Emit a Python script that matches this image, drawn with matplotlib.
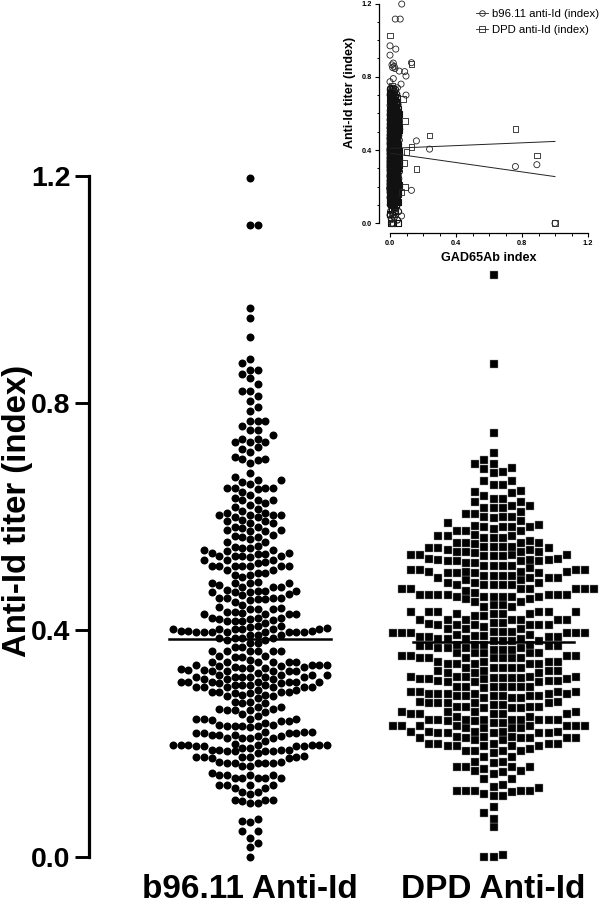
import matplotlib
matplotlib.use("Agg")
import matplotlib.pyplot as plt
import numpy as np
from matplotlib.lines import Line2D

plt.rcParams["font.family"] = ["Liberation Sans", "DejaVu Sans"]

b96_levels = [1.196,1.114,.967,.949,.916,.877,.870,.859,.851,.844,
              .833,.822,.812,.803,.793,.786,.769,.760,.752,.744,
              .737,.731,.723,.719,.714,.705,.701,.700,.694,.676,
              .669,.664,.661,.657,.651,.648,.644,.638,.632,.629,
              .623,.621,.616,.613,.610,.607,.603,.599,.594,.592,
              .589,.588,.581,.579,.576,.575,.567,.565,.563,.560,
              .555,.548,.546,.544,.541,.539,.535,.534,.530,.528,
              .523,.520,.518,.513,.512,.506,.501,.497,.494,.484,
              .482,.479,.475,.471,.469,.467,.463,.461,.457,.454,
              .453,.450,.444,.441,.438,.437,.431,.430,.428,.422,
              .419,.418,.415,.412,.407,.405,.403,.401,.399,.397,
              .396,.391,.386,.383,.377,.370,.363,.354,.353,.352,
              .347,.344,.343,.338,.336,.334,.333,.331,.330,.327,
              .325,.321,.318,.313,.309,.307,.306,.303,.299,.294,
              .291,.289,.286,.283,.280,.274,.272,.271,.265,.260,
              .259,.256,.252,.249,.244,.243,.242,.239,.237,.233,
              .231,.229,.221,.218,.215,.213,.209,.205,.200,.197,
              .195,.192,.189,.186,.183,.178,.177,.174,.168,.165,
              .161,.148,.145,.144,.139,.127,.121,.115,.111,.101,
              .098,.095,.067,.064,.061,.045,.033,.025,.018,0.0]
b96_counts = [1,2,1,1,1,1,1,2,1,1,
              1,2,1,1,1,1,3,1,2,1,
              2,3,1,1,1,1,2,1,1,1,
              1,2,1,1,4,1,1,1,1,3,
              1,1,1,1,1,2,4,2,1,2,
              1,1,2,1,2,2,1,1,2,1,
              2,1,1,2,2,1,2,2,4,1,
              3,1,1,4,3,2,2,2,1,1,
              4,1,3,1,3,3,1,1,4,2,
              1,1,1,1,1,3,2,1,4,3,
              2,1,3,1,2,1,1,6,3,5,
              3,3,4,2,2,2,6,2,1,1,
              1,4,2,4,2,2,3,1,2,5,
              1,4,6,3,7,1,1,4,6,2,
              4,2,2,2,1,2,1,1,2,2,
              3,1,1,1,2,2,1,2,1,2,
              4,1,3,4,3,2,4,1,1,7,
              4,2,4,4,1,1,5,2,2,5,
              2,1,1,3,5,4,2,2,1,3,
              1,2,1,1,1,2,1,1,1,1]

dpd_levels = [1.026,.868,.748,.712,.700,.693,.686,.684,.679,.676,
              .662,.656,.645,.643,.641,.636,.631,.626,.619,.615,
              .608,.605,.600,.599,.597,.592,.588,.585,.584,.582,
              .578,.575,.574,.568,.565,.562,.556,.554,.553,.552,
              .547,.544,.541,.538,.537,.535,.532,.530,.525,.524,
              .521,.518,.513,.512,.509,.506,.503,.500,.496,.492,.488,.483,.479,
              .472,.469,.465,.462,.459,.454,.450,.444,.440,.432,
              .428,.424,.418,.413,.411,.409,.406,.401,.397,.394,
              .391,.390,.387,.384,.380,.374,.371,.368,.365,.359,.354,.350,.344,
              .340,.333,.328,.324,.317,.316,.313,.310,.309,.300,.297,.291,
              .287,.283,.280,.274,.271,.268,.265,.262,.256,.252,
              .247,.242,.239,.236,.230,.227,.221,.218,.212,.209,
              .206,.199,.195,.190,.186,.184,.177,.168,.166,.159,
              .155,.151,.149,.146,.137,.127,.124,.121,.116,.115,
              .111,.107,.088,.077,.067,.052,.003,.000]
dpd_counts = [1,1,1,1,1,2,1,1,1,1,
              2,2,1,1,1,1,2,2,2,3,
              1,2,1,2,1,1,1,1,1,4,
              1,2,1,1,3,3,1,3,1,1,
              4,3,2,2,2,1,4,3,2,3,
              4,2,3,1,1,4,4,4,4,4,2,3,5,
              7,1,1,7,6,2,2,2,2,6,
              4,2,7,2,1,6,1,3,3,6,
              2,2,4,4,4,4,4,4,3,5,4,7,4,
              5,5,4,3,5,4,4,3,3,7,1,4,
              6,6,3,2,5,2,4,3,4,5,
              2,9,2,2,8,4,5,5,3,6,
              2,5,5,1,4,1,2,2,1,4,
              1,2,1,1,2,1,1,1,5,1,
              1,2,1,1,1,1,1,2]

b96_mean = 0.3835
dpd_mean = 0.378
group_labels = ["b96.11 Anti-Id", "DPD Anti-Id"]
main_ticks = [0.0, 0.4, 0.8, 1.2]

# inset: estimated GAD65Ab index for the dense part
gad_b96 = [.004,.021,.012,.033,.002,.017,.028,.008,.041,.014,
           .001,.024,.036,.006,.019,.044,.011,.003,.029,.016,
           .038,.007,.022,.048,.001,.013,.031,.005,.026,.018,
           .042,.009,.002,.035,.015,.052,.023,.004,.011,.039,
           .027,.006,.046,.017,.001,.032,.013,.056,.021,.008,
           .037,.003,.025,.049,.012,.019,.001,.043,.029,.007,
           .016,.054,.034,.005,.022,.011,.041,.002,.028,.047,
           .014,.009,.036,.019,.003,.051,.025,.006,.039,.013,
           .031,.001,.045,.017,.008,.023,.058,.004,.035,.012,
           .027,.042,.002,.018,.049,.007,.033,.015,.024,.001,
           .038,.010,.053,.005,.029,.020,.044,.003,.014,.034,
           .008,.025,.047,.001,.017,.040,.011,.030,.006,.056,
           .021,.003,.036,.013,.045,.008,.026,.001,.018,.032,
           .052,.005,.023,.041,.011,.002,.029,.015,.037,.007,
           .048,.019,.003,.034,.010,.025,.043,.001,.016,.030,
           .006,.039,.021,.012,.046,.002,.027,.008,.035,.017,
           .004,.024,.042,.010,.001,.031,.014,.038,.006,.020,
           .002,.028,.011,.034,.005,.017,.001,.009,.023,.004]
gad_dpd = [.002,.019,.030,.008,.041,.014,.001,.024,.036,.006,
           .018,.045,.011,.003,.028,.015,.039,.007,.022,.049,
           .001,.013,.033,.005,.026,.017,.043,.009,.002,.036,
           .015,.054,.023,.004,.011,.040,.027,.006,.047,.018,
           .001,.032,.012,.021,.008,.038,.003,.025,.050,.013,
           .019,.001,.044,.029,.007,.016,.035,.005,.022,.011,
           .042,.002,.028,.048,.014,.009,.037,.020,.003,.052,
           .026,.006,.040,.012,.031,.001,.046,.017,.008,.023,
           .057,.004,.034,.013,.027,.043,.002,.018,.049,.007,
           .033,.015,.024,.001,.039,.010,.053,.005,.029,.020,
           .044,.003,.014,.034,.008,.025,.047,.001,.017,.041,
           .011,.030,.006,.021,.003,.036,.013,.045,.008,.026,
           .001,.018,.032,.005,.023,.040,.011,.002,.029,.015,
           .037,.007,.019,.003,.027,.010,.001,.016,.024,.006,
           .012,.002,.020,.009,.001]

# inset: points that stand clear of the dense part
out_b96_x = [.071,.032,.062,0.0,.035,0.0,.13,.02,.012,.025,.016,.03,.056,.089,.097,0.0,.02,.067,.045,.097,
             .16,.24,.76,.89,.13,1.0,.07,.01,.03]
out_b96_y = [1.197,1.115,1.115,.969,.951,.918,.877,.875,.865,.857,.85,.845,.831,.828,.804,.773,.79,.76,.74,.70,
             .45,.405,.31,.32,.18,0.0,.04,.02,.06]
out_dpd_x = [0.0,.13,.01,.24,.76,.89,.13,.16,.10,1.0,.015,.09,.08,.07,.03,.09,.085]
out_dpd_y = [1.026,.868,.748,.48,.515,.37,.415,.295,.39,0.0,0.0,.56,.68,.17,.05,.2,.33]
reg_x = [0.0, 1.0]
reg_b96 = [.383, .255]
reg_dpd = [.409, .447]
inset_ticks = [0.0, 0.4, 0.8, 1.2]
inset_minor = [.1, .2, .3, .5, .6, .7, .9, 1.0, 1.1]
legend_labels = ["b96.11 anti-Id (index)", "DPD anti-Id (index)"]


def swarm(values, col_px, gap_px, px_per_unit):
    # put each point in the column nearest the middle that still has room
    values = np.sort(values)
    cols = {}
    out = np.zeros(len(values))
    side = 1
    for i, v in enumerate(values):
        ypx = v * px_per_unit
        k = 0
        while True:
            tried = [0] if k == 0 else [side * k, -side * k]
            done = False
            for c in tried:
                if all(abs(ypx - p) >= gap_px for p in cols.get(c, [])):
                    cols.setdefault(c, []).append(ypx)
                    out[i] = c * col_px
                    done = True
                    side = -side
                    break
            if done:
                break
            k += 1
    return values, out


W, H = 600, 906
fig = plt.figure(figsize=(6, 9.06), dpi=100)

# main panel
ax = fig.add_axes([88.5 / W, 1 - 857 / H, (W - 88.5) / W, (857 - 176) / H])
ax.set_ylim(0, 1.2)
ax.set_xlim(88.5, W)
ax.patch.set_visible(False)
centers = [250, 493.5]
px_unit = (857 - 176) / 1.2

b96_vals = np.repeat(b96_levels, b96_counts)
dpd_vals = np.repeat(dpd_levels, dpd_counts)

y1, off1 = swarm(b96_vals, 7.7, 7.8, px_unit)
ax.scatter(centers[0] + off1, y1, s=33, c="black", marker="o", linewidths=0, clip_on=False)
y2, off2 = swarm(dpd_vals, 9.17, 8.2, px_unit)
ax.scatter(centers[1] + off2, y2, s=31, c="black", marker="s", edgecolors="#999999", linewidths=0.3, clip_on=False)
ax.plot([169, 331], [b96_mean, b96_mean], color="black", lw=1.8, zorder=5)
ax.plot([413, 574], [dpd_mean, dpd_mean], color="black", lw=1.8, zorder=5)

for s in ["top", "right", "bottom"]:
    ax.spines[s].set_visible(False)
ax.spines["left"].set_linewidth(2.3)
ax.set_xticks([])
ax.set_yticks(main_ticks)
ax.set_yticklabels(["%.1f" % t for t in main_ticks], fontsize=20.5, fontweight="bold")
ax.tick_params(axis="y", length=10, width=2.1, pad=2.8)

fig.text(18 / W, 1 - 511 / H, "Anti-Id titer (index)", rotation=90, fontsize=23.7,
         fontweight="bold", ha="center", va="center")
for c, lab in zip(centers, group_labels):
    fig.text(c / W, 1 - 898.5 / H, lab, fontsize=24, fontweight="bold", ha="center", va="baseline")

# inset panel
ins = fig.add_axes([390 / W, 1 - 223.3 / H, 198 / W, 219.8 / H])
ins.set_xlim(0, 1.2)
ins.set_ylim(0, 1.2)
ins.patch.set_visible(False)
for s in ["top", "right"]:
    ins.spines[s].set_visible(False)
ins.spines["left"].set_position(("outward", 7.9))
ins.spines["bottom"].set_position(("outward", 7.2))
ins.spines["left"].set_linewidth(0.9)
ins.spines["bottom"].set_linewidth(0.9)
ins.set_xticks(inset_ticks)
ins.set_yticks(inset_ticks)
ins.set_xticks(inset_minor, minor=True)
ins.set_yticks(inset_minor, minor=True)
ins.set_xticklabels(["%.1f" % t for t in inset_ticks], fontsize=5.3, fontweight="bold")
ins.set_yticklabels(["%.1f" % t for t in inset_ticks], fontsize=5.3, fontweight="bold")
ins.tick_params(which="major", length=3, width=0.8, pad=2)
ins.tick_params(which="minor", length=1.8, width=0.7)

# every titer below the sparse top, paired with the estimated index lists
low_b96 = b96_vals[b96_vals < .74]
low_dpd = dpd_vals[dpd_vals < .72]
x_b96 = (gad_b96 + gad_dpd + gad_b96[::-1])[:len(low_b96)]
x_dpd = (gad_dpd + gad_b96 + gad_dpd[::-1])[:len(low_dpd)]
ins.scatter(x_b96, low_b96, s=19, facecolors="none", edgecolors="#111111", linewidths=0.8, clip_on=False)
ins.scatter(x_dpd, low_dpd, s=17, marker="s", facecolors="none", edgecolors="#111111", linewidths=0.8, clip_on=False)
ins.scatter(out_b96_x, out_b96_y, s=19, facecolors="none", edgecolors="#222222", linewidths=0.6, clip_on=False)
ins.scatter(out_dpd_x, out_dpd_y, s=17, marker="s", facecolors="none", edgecolors="#222222", linewidths=0.6, clip_on=False)
ins.plot(reg_x, reg_b96, color="#222222", lw=0.7)
ins.plot(reg_x, reg_dpd, color="#222222", lw=0.7)

fig.text(350 / W, 1 - 92 / H, "Anti-Id titer (index)", rotation=90, fontsize=9,
         fontweight="bold", ha="center", va="center")
fig.text(489 / W, 1 - 258 / H, "GAD65Ab index", fontsize=9.1, fontweight="bold", ha="center", va="center")

handles = [Line2D([], [], color="#222222", lw=0.6, marker="o", ms=4, mfc="none", mew=0.6),
           Line2D([], [], color="#222222", lw=0.6, marker="s", ms=4, mfc="none", mew=0.6)]
fig.legend(handles, legend_labels, loc="upper left", bbox_to_anchor=(473 / W, 1 - 5.5 / H), frameon=False,
           fontsize=8.2, handlelength=1.0, handletextpad=0.4, labelspacing=0.55, borderpad=0.3, borderaxespad=0)

fig.savefig("out.png", dpi=100)
